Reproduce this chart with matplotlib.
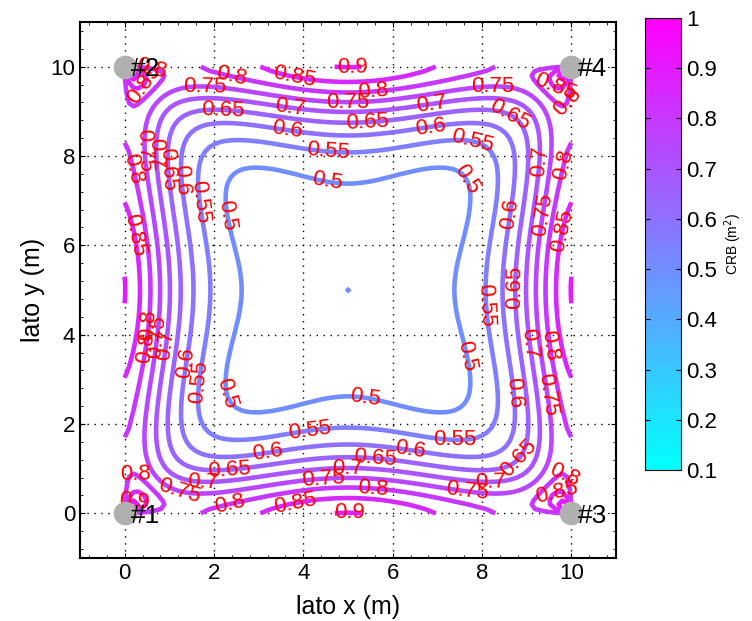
import matplotlib
matplotlib.use("Agg")
import matplotlib.pyplot as plt
import numpy as np
from matplotlib.ticker import AutoMinorLocator

plt.rcParams['font.family'] = ['Liberation Sans', 'DejaVu Sans']

# posizioni delle ancore (m)
anchor_x = [0, 0, 10, 10]
anchor_y = [0, 10, 0, 10]
anchor_names = ['#1', '#2', '#3', '#4']

# deviazione standard della misura di distanza: sigma = k * d
k_sigma = 0.1

levels = [0.5, 0.55, 0.6, 0.65, 0.7, 0.75, 0.8, 0.85, 0.9]
cbar_ticks = [0.1, 0.2, 0.3, 0.4, 0.5, 0.6, 0.7, 0.8, 0.9, 1]
axis_ticks = [0, 2, 4, 6, 8, 10]

# posizioni delle etichette delle curve
label_x = [0.6, 0.45, 2.4, 1.79, 2.2, 0.49, 0.11, 0.73, 0.94, 1.28, 1.64, 2.29, 0.18,
           3.81, 5.09, 5.56, 5.0, 3.7, 5.43, 6.88, 3.65, 6.84, 4.55, 4.53,
           8.25, 9.69, 9.87, 8.63, 7.78, 7.69, 9.35, 9.87, 8.68, 9.42, 9.91, 8.86, 8.07,
           0.6, 0.49, 0.8, 1.0, 1.3, 1.73, 2.31, 0.22, 0.29, 1.23, 1.75, 2.35, 2.35,
           5.38, 4.15, 3.2, 6.39, 5.61, 4.98, 4.44, 5.56, 3.81, 5.04,
           7.69, 9.08, 9.53, 8.7, 9.48, 7.4, 8.81, 8.18, 7.67, 9.87, 9.71]
label_y = [9.93, 9.6, 9.78, 9.55, 9.01, 8.13, 7.7, 8.05, 7.7, 7.46, 6.97, 6.68, 6.23,
           9.78, 10.0, 9.48, 9.22, 9.1, 8.77, 9.17, 8.61, 8.65, 8.14, 7.42,
           9.55, 9.62, 9.22, 8.92, 8.32, 7.49, 7.87, 7.8, 6.7, 6.68, 6.3, 5.07, 4.66,
           4.2, 3.7, 3.95, 3.75, 3.39, 2.94, 2.69, 0.85, 0.34, 0.56, 0.74, 0.96, 0.22,
           2.58, 1.82, 1.35, 1.41, 1.23, 1.0, 0.78, 0.56, 0.22, 0.0,
           3.54, 3.81, 3.77, 2.69, 2.65, 1.64, 1.23, 0.7, 0.52, 0.9, 0.4]

# CRB = traccia dell'inversa della matrice di Fisher (TOA)
g = np.linspace(0, 10, 101)
X, Y = np.meshgrid(g, g)
J = np.zeros(X.shape + (2, 2))
for a, b in zip(anchor_x, anchor_y):
    dx = X - a
    dy = Y - b
    d = np.sqrt(dx**2 + dy**2)
    d[d == 0] = np.nan
    w = 1.0 / (k_sigma * d)**2
    u = [dx / d, dy / d]
    for i in range(2):
        for j in range(2):
            J[..., i, j] += w * u[i] * u[j]
bad = np.isnan(J).any(axis=(-1, -2))
J[bad] = np.eye(2)
C = np.linalg.inv(J)
CRB = C[..., 0, 0] + C[..., 1, 1]
CRB[bad] = np.nan

cmap = plt.get_cmap('cool', 64)

fig = plt.figure(figsize=(7.52, 6.21), dpi=100)
ax = fig.add_axes([80/752, 63/621, 536/752, 536/621])

cs = ax.contour(X, Y, CRB, levels=levels, cmap='cool', vmin=0.1, vmax=1, linewidths=3.3)
ax.clabel(cs, fmt='%g', colors='red', fontsize=16, inline=False,
          manual=list(zip(label_x, label_y)))

ax.plot(anchor_x, anchor_y, 'o', color='#b0b0b0', markersize=16, zorder=5)
for x, y, n in zip(anchor_x, anchor_y, anchor_names):
    ax.text(x + 0.15, y - 0.05, n, fontsize=19, va='center', ha='left', zorder=6)
ax.plot(np.mean(anchor_x), np.mean(anchor_y), '+', color=cmap(0.444), markersize=5, mew=1)

ax.set_xlim(-1, 11)
ax.set_ylim(-1, 11)
ax.set_xticks(axis_ticks)
ax.set_yticks(axis_ticks)
ax.xaxis.set_minor_locator(AutoMinorLocator(5))
ax.yaxis.set_minor_locator(AutoMinorLocator(5))
ax.tick_params(which='both', direction='in', top=True, right=True, labelsize=16)
ax.grid(True, color='black', linestyle=(0, (1, 4)), linewidth=1)
ax.set_xlabel('lato x (m)', fontsize=18, labelpad=8)
ax.set_ylabel('lato y (m)', fontsize=18)
for s in ax.spines.values():
    s.set_linewidth(1.5)

cax = fig.add_axes([645/752, 151/621, 36/752, 452/621])
sm = plt.cm.ScalarMappable(cmap=cmap, norm=plt.Normalize(0.1, 1))
cb = fig.colorbar(sm, cax=cax, ticks=cbar_ticks)
cb.ax.set_yticklabels([str(t) for t in cbar_ticks])
cb.ax.tick_params(labelsize=16, direction='in', left=True)
cb.set_label('CRB (m$^2$)', fontsize=10)

fig.savefig('out.png', dpi=100)
